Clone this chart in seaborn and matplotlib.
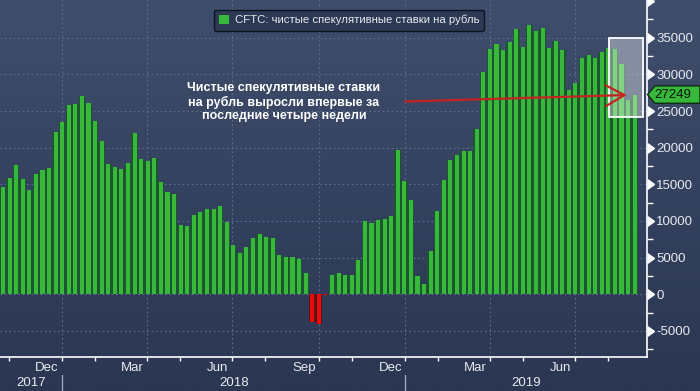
import numpy as np
import pandas as pd
import matplotlib
matplotlib.use("Agg")
import matplotlib.pyplot as plt
import matplotlib.transforms as mtransforms
from matplotlib.patches import Rectangle, Polygon, Patch
from matplotlib.colors import LinearSegmentedColormap
import seaborn as sns

# ---------------- data ----------------
start_date = "2017-10-30"
net_positions = [
    14700, 15900, 17650, 15750, 14250, 16400, 16950, 17250, 22150, 23500,
    25800, 25950, 27000, 26050, 23600, 20900, 17800, 17400, 17100, 17950,
    22000, 18480, 18200, 18620, 15350, 14000, 13720, 9510, 9380, 10870,
    11280, 11690, 11690, 12080, 9800, 6660, 5580, 6400, 7620, 8160,
    7750, 7620, 5300, 5030, 5030, 4760, 2850, -3800, -4100, -120,
    2590, 2860, 2590, 2590, 4630, 9950, 9660, 10200, 10340, 10750,
    19720, 15510, 12920, 2440, 1360, 5850, 11300, 15650, 18370, 19050,
    19600, 19600, 22580, 30270, 33400, 34090, 33270, 34360, 36130, 33680,
    36680, 35860, 36270, 33540, 34500, 33270, 27820, 28770, 32180, 32590,
    32180, 33000, 33540, 33400, 31360, 26500, 27249,
]
series_label = "CFTC: чистые спекулятивные ставки на рубль"
annotation_text = ("Чистые спекулятивные ставки\n"
                   "на рубль выросли впервые за\n"
                   "последние четыре недели")
month_labels = ["Dec", "Mar", "Jun", "Sep", "Dec", "Mar", "Jun"]
month_label_months = ["2017-12", "2018-03", "2018-06", "2018-09",
                      "2018-12", "2019-03", "2019-06"]
year_labels = ["2017", "2018", "2019"]
year_starts = ["2018-01-01", "2019-01-01"]
quarter_starts = ["2018-01-01", "2018-04-01", "2018-07-01", "2018-10-01",
                  "2019-01-01", "2019-04-01", "2019-07-01"]
y_ticks = [-5000, 0, 5000, 10000, 15000, 20000, 25000, 30000, 35000]
last_value_label = "27249"
highlight_weeks = 4

# ---------------- frame ----------------
dates = pd.date_range(start_date, periods=len(net_positions), freq="7D")
df = pd.DataFrame({"date": dates, "value": net_positions})
df["pos"] = np.arange(len(df), dtype=float)
df["sign"] = np.where(df["value"] >= 0, "pos", "neg")
t0 = pd.Timestamp(start_date)


def date_pos(d):
    return (pd.Timestamp(d) - t0).days / 7.0


sns.set_theme(style="dark")
plt.rcParams["font.family"] = ["Liberation Sans", "DejaVu Sans"]

W, H = 700, 391
fig = plt.figure(figsize=(7.0, 3.91), dpi=100)

# background gradient
bg = fig.add_axes([0, 0, 1, 1], zorder=-10)
grad = np.linspace(0, 1, 256).reshape(-1, 1)
cmap = LinearSegmentedColormap.from_list("bg", ["#3f4e6c", "#2a3652"])
bg.imshow(grad, aspect="auto", cmap=cmap, extent=[0, 1, 0, 1], origin="upper")
bg.axis("off")

ax_right_px, ax_bottom_px = 646.7, 356.7
ax = fig.add_axes([0, 1 - ax_bottom_px / H, ax_right_px / W, ax_bottom_px / H])
ax.set_facecolor("none")
ax.set_axisbelow(True)

# bars: dark underlay then bright bar
sns.barplot(data=df, x="pos", y="value", hue="sign", native_scale=True,
            palette={"pos": "#1d5530", "neg": "#5a1414"}, width=1.0,
            saturation=1, linewidth=0, legend=False, ax=ax, zorder=2)
sns.barplot(data=df, x="pos", y="value", hue="sign", native_scale=True,
            palette={"pos": "#37b83a", "neg": "#e80c0c"}, width=0.62,
            saturation=1, linewidth=0, legend=False, ax=ax, zorder=3)

xmin, xmax = -0.456, 97.83
ymin, ymax = -8513, 40150
ax.set_xlim(xmin, xmax)
ax.set_ylim(ymin, ymax)

# grid
grid_kw = dict(color="#5d6f8e", lw=0.8, linestyle=(0, (1.5, 2.5)), zorder=1)
for yv in y_ticks:
    ax.axhline(yv, **grid_kw)
for q in quarter_starts:
    ax.axvline(date_pos(q), **grid_kw)

# spines
for s in ["left", "top"]:
    ax.spines[s].set_visible(False)
for s in ["right", "bottom"]:
    ax.spines[s].set_visible(True)
    ax.spines[s].set_color("white")
    ax.spines[s].set_linewidth(1.2)

# y axis on right
ax.yaxis.tick_right()
ax.set_yticks(y_ticks)
ax.set_yticklabels([str(v) for v in y_ticks])
ax.set_yticks(np.arange(-7500, 40000, 5000), minor=True)
ax.tick_params(axis="y", which="major", length=0, pad=7, labelsize=9.5,
               labelcolor="#e8eaf0")
ax.tick_params(axis="y", which="minor", length=4.5, width=1, color="white",
               right=True, left=False)
ax.set_ylabel("")
caret_tr = mtransforms.blended_transform_factory(ax.transAxes, ax.transData)
ax.plot(np.ones(len(y_ticks) + 1), y_ticks + [40000], linestyle="none",
        marker=9, markersize=7, color="white", transform=caret_tr, clip_on=False,
        zorder=10)

# x axis
label_pos = []
for m in month_label_months:
    p = pd.Period(m, freq="M")
    mid = p.start_time + (p.end_time - p.start_time) / 2
    label_pos.append(date_pos(mid))
ax.set_xticks(label_pos)
ax.set_xticklabels(month_labels)
tick_pos = []
for q in quarter_starts:
    tick_pos.append(date_pos(q))
    tick_pos.append(date_pos(pd.Timestamp(q) + pd.Timedelta(days=35)))
tick_pos.append(date_pos("2017-11-05"))
ax.set_xticks(tick_pos, minor=True)
ax.tick_params(axis="x", which="major", length=0, pad=3.5, labelsize=9.5,
               labelcolor="#e8eaf0")
ax.tick_params(axis="x", which="minor", length=3, width=1, color="white",
               bottom=True)
ax.set_xlabel("")

# year row
yr_tr = mtransforms.blended_transform_factory(ax.transData, fig.transFigure)
bounds = [xmin] + [date_pos(y) for y in year_starts] + [xmax]
for i, lab in enumerate(year_labels):
    ax.text((bounds[i] + bounds[i + 1]) / 2, 1 - 383 / H, lab, transform=yr_tr,
            ha="center", va="center", fontsize=9.5, color="#e8eaf0")
for y in year_starts:
    ax.plot([date_pos(y)] * 2, [1 - 375 / H, 0], transform=yr_tr,
            color="#9aa6bb", lw=1, clip_on=False)

# legend
handle = Patch(facecolor="#37b83a", edgecolor="none", label=series_label)
leg = ax.legend(handles=[handle], loc="upper center",
                bbox_to_anchor=(349 / ax_right_px, 1 - 4 / ax_bottom_px),
                frameon=True, fancybox=True, facecolor="#2c3954",
                edgecolor="#0c1220", framealpha=1, fontsize=8.2,
                labelcolor="#e6e8ee", handlelength=0.9, handleheight=0.9,
                handletextpad=0.5, borderpad=0.45)
leg.get_frame().set_linewidth(1.0)

# highlight box around last weeks
n = len(net_positions)
rect = Rectangle((n - highlight_weeks - 0.9, 24230), highlight_weeks + 1.17,
                 34920 - 24230, facecolor="white", alpha=0.38,
                 edgecolor="none", zorder=5)
ax.add_patch(rect)
rect2 = Rectangle((n - highlight_weeks - 0.9, 24230), highlight_weeks + 1.17,
                  34920 - 24230, facecolor="none", edgecolor="white",
                  lw=1.3, zorder=6)
ax.add_patch(rect2)

# annotation text and arrow
ax.text(42.7, 26230, annotation_text, ha="center", va="center",
        multialignment="center", fontsize=9, fontweight="bold", color="white",
        linespacing=1.2, zorder=8)
ax.annotate("", xy=(94.8, net_positions[-1] - 60), xytext=(61.1, 26300),
            arrowprops=dict(arrowstyle="->, head_length=0.45, head_width=0.25",
                            color="#c42420", lw=1.6, mutation_scale=30,
                            shrinkA=0, shrinkB=0), zorder=9)

# last value tag
ypx = ax.transData.transform((0, net_positions[-1]))[1]
inv = fig.transFigure.inverted()
def fpt(x, y):
    return inv.transform((x, y))
tag = Polygon([fpt(647.5, ypx), fpt(655, ypx + 8.7), fpt(700, ypx + 8.7),
               fpt(700, ypx - 8.7), fpt(655, ypx - 8.7)], closed=True,
              transform=fig.transFigure, facecolor="#37b83a",
              edgecolor="#0f2a14", lw=1, zorder=20)
fig.add_artist(tag)
tpos = fpt(673, ypx)
fig.text(tpos[0], tpos[1], last_value_label, ha="center", va="center",
         fontsize=9.5, color="#0a140a", zorder=21)

fig.savefig("out.png", dpi=100)
